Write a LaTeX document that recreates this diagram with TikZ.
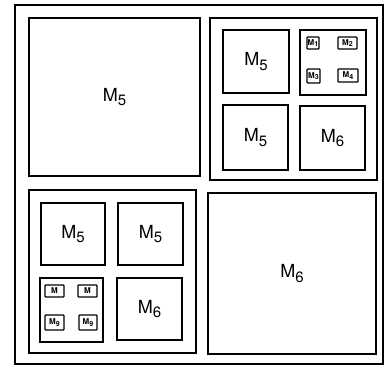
\documentclass[tikz,border=0pt]{standalone}
\usepackage{fontspec}
\setmainfont{TeX Gyre Heros}
\newcommand\lbl[1]{{\fontsize{18}{20}\selectfont M\raisebox{-0.45ex}{\fontsize{15}{16}\selectfont #1}}}
\newcommand\slbl[1]{{\fontsize{8}{9}\selectfont\bfseries M\raisebox{-0.4ex}{\fontsize{7}{8}\selectfont #1}}}
\newcommand\bx[7][box]{\node[#1, minimum width={(#5-#3)*1pt}, minimum height={(#6-#4)*1pt}] (#2) at ({(#3+#5)/2},{(#4+#6)/2}) {#7};}
\begin{document}
\begin{tikzpicture}[x=1pt,y=-1pt,
  box/.style={draw, line width=1.6pt, inner sep=0pt, outer sep=0pt},
  frame/.style={draw, line width=1.2pt, inner sep=0pt, outer sep=0pt},
  sbox/.style={draw, line width=1.3pt, inner sep=0pt, outer sep=0pt, rounded corners=0.8pt}]
\useasboundingbox (0,0) rectangle (385,368);
% outer frame
\bx[frame]{outer}{15}{5}{383}{364}{}
% top-left
\bx{A}{29}{18}{200}{176}{\lbl{5}}
% top-right group
\bx{B}{210}{18}{377}{180}{}
\bx{B1}{223}{30}{289}{93}{\lbl{5}}
\bx{B2}{300}{30}{366}{95}{}
\bx[sbox]{m1}{307}{37}{319}{49}{\slbl{1}}
\bx[sbox]{m2}{338}{37}{357}{49}{\slbl{2}}
\bx[sbox]{m3}{307}{69}{320}{83}{\slbl{3}}
\bx[sbox]{m4}{338}{69}{358}{82}{\slbl{4}}
\bx{B3}{223}{105}{288}{170}{\lbl{5}}
\bx{B4}{300}{106}{365}{170}{\lbl{6}}
% bottom-left group
\bx{C}{29}{190}{196}{353}{}
\bx{C1}{41}{203}{105}{265}{\lbl{5}}
\bx{C2}{118}{203}{183}{265}{\lbl{5}}
\bx{C3}{40}{278}{103}{342}{}
\bx[sbox]{n1}{45}{285}{64}{297}{\slbl{}}
\bx[sbox]{n2}{78}{285}{97}{297}{\slbl{}}
\bx[sbox]{n3}{45}{315}{64}{330}{\slbl{9}}
\bx[sbox]{n4}{79}{315}{97}{330}{\slbl{9}}
\bx{C4}{117}{278}{182}{340}{\lbl{6}}
% bottom-right
\bx{D}{208}{193}{376}{354}{\lbl{6}}
\end{tikzpicture}
\end{document}
